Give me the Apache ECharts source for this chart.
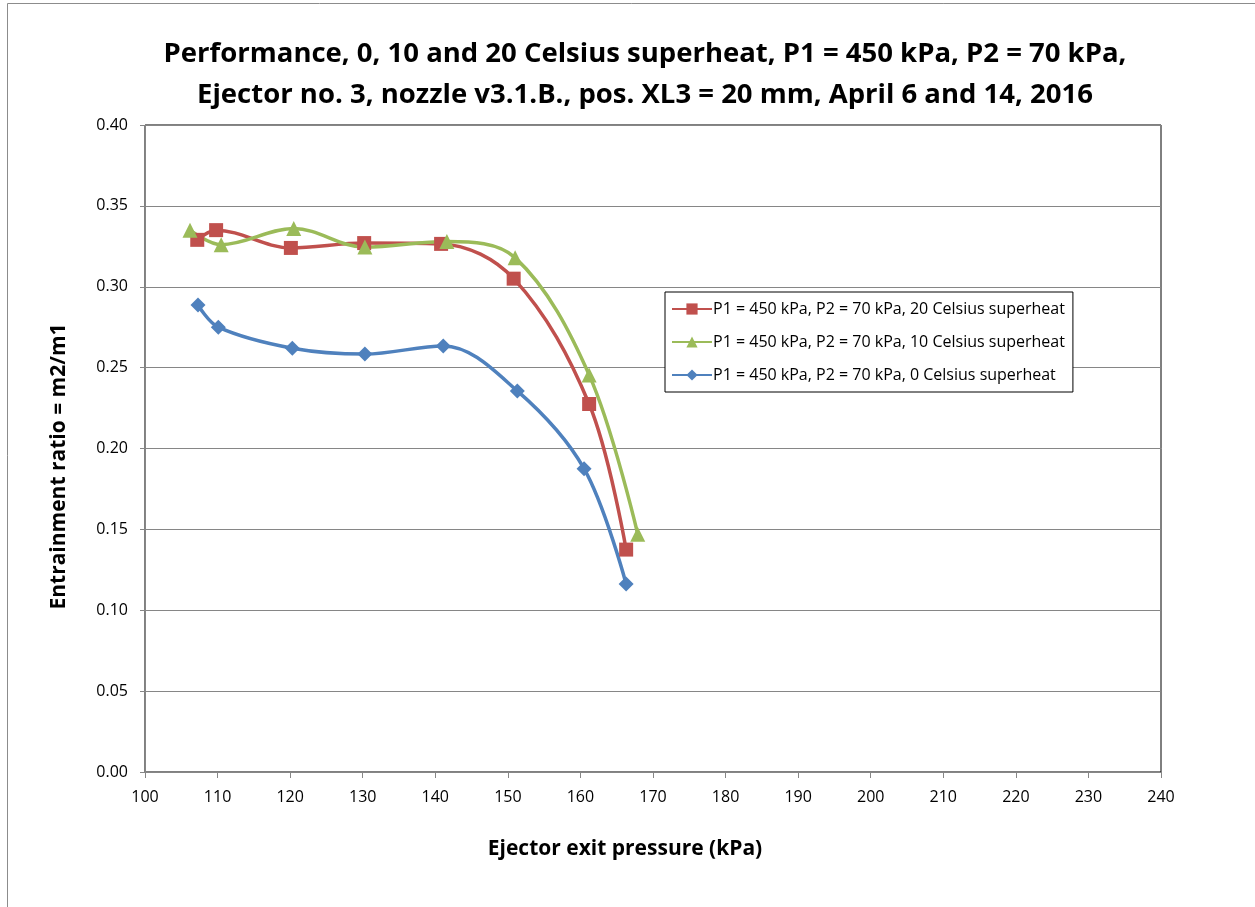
<!DOCTYPE html>
<html>
<head>
<meta charset="utf-8">
<script src="https://cdn.jsdelivr.net/npm/echarts@6/dist/echarts.min.js"></script>
<style>
  html, body { margin: 0; padding: 0; background: #fff; }
  #chart { width: 1255px; height: 907px; }
</style>
</head>
<body>
<div id="chart"></div>
<script>
// [exit pressure kPa, entrainment ratio]
var sh20 = [[107.2, 0.329], [109.8, 0.335], [120.1, 0.324], [130.2, 0.327], [140.8, 0.3265], [150.8, 0.305], [161.2, 0.2275], [166.3, 0.1375]];
var sh10 = [[106.2, 0.335], [110.5, 0.326], [120.5, 0.336], [130.3, 0.3245], [141.6, 0.328], [151.0, 0.318], [161.2, 0.2455], [167.9, 0.147]];
var sh0 = [[107.3, 0.2887], [110.1, 0.275], [120.3, 0.262], [130.3, 0.2584], [141.1, 0.2634], [151.3, 0.2356], [160.5, 0.1875], [166.3, 0.1162]];
var seriesNames = [
    'P1 = 450 kPa, P2 = 70 kPa, 20 Celsius superheat',
    'P1 = 450 kPa, P2 = 70 kPa, 10 Celsius superheat',
    'P1 = 450 kPa, P2 = 70 kPa, 0 Celsius superheat'
];

var chart = echarts.init(document.getElementById('chart'), null, {renderer: 'canvas'});
var font = 'Open Sans, Liberation Sans, sans-serif';

function line(name, data, color, symbol, size) {
    return {
        name: name,
        type: 'line',
        data: data,
        smooth: 0.35,
        symbol: symbol,
        symbolSize: size,
        showSymbol: true,
        lineStyle: {color: color, width: 3.5},
        itemStyle: {color: color},
        z: 3
    };
}

var option = {
    backgroundColor: '#fff',
    animation: false,
    title: {
        text: 'Performance, 0, 10 and 20 Celsius superheat, P1 = 450 kPa, P2 = 70 kPa,\nEjector no. 3, nozzle v3.1.B., pos. XL3 = 20 mm, April 6 and 14, 2016',
        left: 640,
        textAlign: 'center',
        top: 29,
        textStyle: {fontFamily: font, fontSize: 27.5, fontWeight: 'bold', color: '#000', lineHeight: 41}
    },
    graphic: [{
        type: 'rect',
        shape: {x: 7.5, y: 3.5, width: 1260, height: 920},
        style: {fill: 'none', stroke: '#8c8c8c', lineWidth: 1},
        silent: true
    }],
    legend: {
        orient: 'vertical',
        left: 665,
        top: 292,
        itemGap: 17,
        itemWidth: 40,
        itemHeight: 14,
        padding: [9, 8, 9, 6],
        borderColor: '#000',
        borderWidth: 1,
        backgroundColor: '#fff',
        textStyle: {fontFamily: font, fontSize: 16, color: '#000', padding: [0, 0, 0, -4]},
        data: seriesNames
    },
    grid: {
        left: 145, right: 94, top: 125, bottom: 135,
        show: true,
        borderColor: '#000',
        borderWidth: 1
    },
    xAxis: {
        type: 'value',
        min: 100, max: 240, interval: 10,
        name: 'Ejector exit pressure (kPa)',
        nameLocation: 'middle',
        nameGap: 67,
        nameTextStyle: {fontFamily: font, fontSize: 21, fontWeight: 'bold', color: '#000', padding: [0, 56, 0, 0]},
        axisLine: {lineStyle: {color: '#868686'}},
        axisTick: {show: true, length: 6, lineStyle: {color: '#868686'}},
        axisLabel: {fontFamily: font, fontSize: 16, color: '#000', margin: 17},
        splitLine: {show: false}
    },
    yAxis: {
        type: 'value',
        min: 0, max: 0.4, interval: 0.05,
        name: 'Entrainment ratio = m2/m1',
        nameLocation: 'middle',
        nameGap: 75,
        nameTextStyle: {fontFamily: font, fontSize: 21, fontWeight: 'bold', color: '#000', padding: [0, 36, 0, 0]},
        axisLine: {show: true, lineStyle: {color: '#868686'}},
        axisTick: {show: true, length: 5, lineStyle: {color: '#868686'}},
        axisLabel: {fontFamily: font, fontSize: 16, color: '#000', margin: 17,
            formatter: function (v) { return v.toFixed(2); }},
        splitLine: {show: true, lineStyle: {color: '#868686', width: 1}}
    },
    series: [
        line(seriesNames[0], sh20, '#C0504D', 'rect', 14),
        line(seriesNames[1], sh10, '#9BBB59', 'triangle', 15),
        line(seriesNames[2], sh0, '#4F81BD', 'diamond', 15)
    ]
};

chart.setOption(option);
</script>
</body>
</html>
